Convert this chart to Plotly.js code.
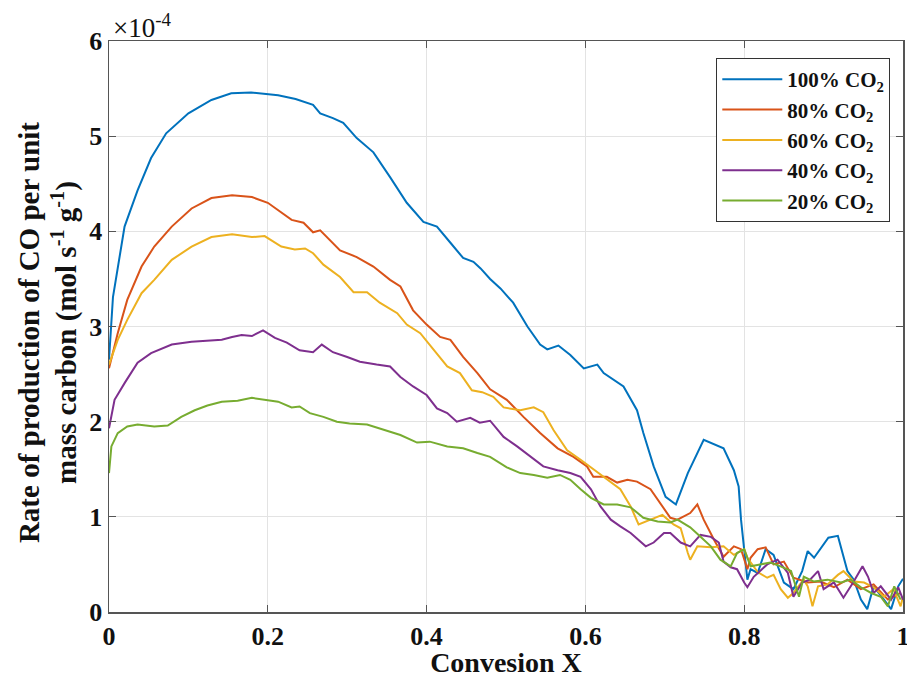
<!DOCTYPE html>
<html>
<head>
<meta charset="utf-8">
<script src="https://cdn.plot.ly/plotly-3.0.1.min.js"></script>
<style>html,body{margin:0;padding:0;background:#fff;}#chart{width:907px;height:678px;}</style>
</head>
<body>
<div id="chart"></div>
<script>
// Values in units of 1e-4 mol s^-1 g^-1
const seriesNames = ["100% CO<sub>2</sub>", "80% CO<sub>2</sub>", "60% CO<sub>2</sub>", "40% CO<sub>2</sub>", "20% CO<sub>2</sub>"];
const seriesColors = ["#0072BD", "#D95319", "#EDB120", "#7E2F8E", "#77AC30"];

const x100 = [0,0.005,0.0196,0.036,0.053,0.072,0.1,0.129,0.154,0.179,0.213,0.235,0.257,0.266,0.282,0.295,0.312,0.333,0.354,0.375,0.396,0.413,0.43,0.446,0.459,0.468,0.48,0.493,0.509,0.527,0.543,0.552,0.566,0.581,0.598,0.615,0.623,0.648,0.665,0.673,0.686,0.701,0.714,0.729,0.749,0.762,0.774,0.787,0.793,0.796,0.8,0.804,0.808,0.817,0.827,0.837,0.85,0.862,0.873,0.88,0.888,0.896,0.906,0.918,0.924,0.93,0.938,0.947,0.955,0.963,0.976,0.985,0.994,1.0];
const y100 = [2.65,3.31,4.05,4.43,4.77,5.03,5.24,5.38,5.45,5.46,5.43,5.39,5.33,5.24,5.19,5.14,4.98,4.83,4.57,4.30,4.10,4.05,3.88,3.72,3.68,3.61,3.50,3.40,3.25,3.0,2.81,2.76,2.80,2.70,2.56,2.60,2.51,2.37,2.12,1.88,1.53,1.21,1.13,1.46,1.81,1.76,1.72,1.49,1.32,0.97,0.66,0.34,0.45,0.41,0.66,0.60,0.31,0.24,0.43,0.64,0.57,0.66,0.78,0.80,0.62,0.43,0.34,0.13,0.03,0.27,0.13,0.03,0.27,0.35];

const x80 = [0,0.011,0.023,0.041,0.057,0.079,0.104,0.129,0.155,0.18,0.2,0.217,0.23,0.245,0.257,0.266,0.291,0.312,0.333,0.354,0.367,0.383,0.4,0.417,0.43,0.446,0.464,0.48,0.501,0.522,0.543,0.565,0.585,0.602,0.61,0.627,0.64,0.653,0.665,0.682,0.697,0.707,0.716,0.732,0.741,0.749,0.762,0.774,0.787,0.796,0.804,0.808,0.817,0.827,0.837,0.85,0.862,0.88,0.896,0.913,0.93,0.947,0.963,0.981,0.997];
const y80 = [2.56,2.93,3.28,3.63,3.84,4.05,4.24,4.35,4.38,4.36,4.30,4.20,4.12,4.09,3.99,4.01,3.80,3.73,3.63,3.49,3.42,3.17,3.02,2.89,2.86,2.68,2.51,2.34,2.23,2.05,1.88,1.72,1.63,1.53,1.42,1.42,1.36,1.39,1.37,1.29,1.11,0.99,0.97,1.04,1.13,0.97,0.76,0.58,0.69,0.66,0.45,0.57,0.66,0.68,0.50,0.53,0.36,0.31,0.32,0.26,0.34,0.24,0.29,0.13,0.2];

const x60 = [0,0.011,0.023,0.041,0.057,0.079,0.104,0.129,0.155,0.18,0.196,0.217,0.234,0.247,0.257,0.27,0.291,0.308,0.325,0.341,0.363,0.375,0.392,0.409,0.426,0.442,0.457,0.47,0.484,0.497,0.518,0.535,0.547,0.56,0.577,0.594,0.61,0.627,0.644,0.657,0.667,0.682,0.697,0.711,0.72,0.729,0.732,0.741,0.758,0.774,0.787,0.8,0.804,0.817,0.829,0.837,0.846,0.855,0.862,0.875,0.88,0.886,0.893,0.905,0.918,0.925,0.938,0.951,0.963,0.976,0.988,0.997,1.0];
const y60 = [2.6,2.86,3.07,3.35,3.49,3.70,3.84,3.94,3.97,3.94,3.95,3.84,3.81,3.82,3.77,3.65,3.52,3.36,3.36,3.25,3.14,3.02,2.93,2.75,2.58,2.51,2.33,2.31,2.26,2.15,2.12,2.15,2.10,1.91,1.70,1.60,1.50,1.39,1.29,1.11,0.92,0.97,1.02,0.92,0.88,0.62,0.55,0.69,0.68,0.69,0.60,0.66,0.57,0.42,0.36,0.39,0.24,0.15,0.2,0.34,0.27,0.06,0.27,0.29,0.39,0.43,0.32,0.31,0.26,0.16,0.24,0.06,0.16];

const x40 = [0,0.007,0.02,0.036,0.053,0.079,0.104,0.142,0.155,0.167,0.18,0.194,0.209,0.224,0.24,0.257,0.268,0.282,0.3,0.316,0.337,0.354,0.367,0.383,0.4,0.413,0.426,0.438,0.455,0.467,0.48,0.497,0.514,0.531,0.547,0.565,0.581,0.594,0.607,0.619,0.632,0.644,0.657,0.676,0.686,0.699,0.707,0.72,0.732,0.745,0.758,0.768,0.774,0.783,0.791,0.8,0.804,0.812,0.829,0.842,0.855,0.862,0.873,0.883,0.893,0.9,0.913,0.925,0.938,0.949,0.956,0.963,0.972,0.985,0.994,1.0];
const y40 = [1.93,2.23,2.41,2.62,2.72,2.81,2.84,2.86,2.89,2.91,2.90,2.96,2.88,2.83,2.75,2.73,2.81,2.73,2.68,2.63,2.60,2.58,2.47,2.37,2.28,2.14,2.09,2.0,2.04,1.99,2.01,1.84,1.74,1.63,1.53,1.49,1.46,1.42,1.29,1.11,0.97,0.90,0.83,0.69,0.73,0.83,0.83,0.73,0.69,0.81,0.79,0.73,0.53,0.47,0.45,0.31,0.26,0.37,0.50,0.55,0.41,0.16,0.31,0.34,0.43,0.24,0.31,0.15,0.32,0.48,0.37,0.2,0.27,0.13,0.26,0.13];

const x20 = [0,0.003,0.011,0.023,0.036,0.057,0.074,0.091,0.108,0.124,0.142,0.162,0.18,0.196,0.213,0.23,0.24,0.253,0.27,0.287,0.303,0.325,0.345,0.367,0.388,0.404,0.426,0.446,0.464,0.48,0.501,0.518,0.535,0.552,0.568,0.581,0.594,0.607,0.623,0.64,0.657,0.673,0.691,0.707,0.716,0.732,0.745,0.758,0.77,0.783,0.791,0.8,0.808,0.821,0.833,0.846,0.859,0.869,0.875,0.888,0.905,0.922,0.934,0.947,0.96,0.972,0.981,0.989,0.997];
const y20 = [1.46,1.74,1.88,1.95,1.97,1.95,1.96,2.05,2.12,2.17,2.21,2.22,2.25,2.23,2.21,2.15,2.16,2.09,2.05,2.0,1.98,1.97,1.92,1.86,1.78,1.79,1.74,1.72,1.67,1.63,1.52,1.46,1.44,1.41,1.44,1.39,1.29,1.20,1.13,1.13,1.10,0.99,0.95,0.94,0.97,0.89,0.79,0.69,0.55,0.48,0.62,0.66,0.48,0.50,0.52,0.48,0.43,0.16,0.37,0.32,0.34,0.31,0.34,0.26,0.2,0.16,0.06,0.27,0.13];

const xTickVals = [0, 0.2, 0.4, 0.6, 0.8, 1];
const xTickText = ["0", "0.2", "0.4", "0.6", "0.8", "1"];
const yTickVals = [0, 1, 2, 3, 4, 5, 6];
const yTickText = ["0", "1", "2", "3", "4", "5", "6"];

const xs = [x100, x80, x60, x40, x20];
const ys = [y100, y80, y60, y40, y20];

const FONT = "Liberation Serif, Times New Roman, serif";

const traces = xs.map((x, i) => ({
  x: x, y: ys[i], type: "scatter", mode: "lines",
  name: seriesNames[i],
  line: {color: seriesColors[i], width: 2}
}));

const axisCommon = {
  showline: true, linecolor: "#555", linewidth: 1.5, mirror: "ticks",
  ticks: "inside", ticklen: 7, tickcolor: "#555", tickwidth: 1,
  showgrid: true, gridcolor: "#e3e3e3", gridwidth: 1,
  zeroline: false, ticklabeloverflow: "allow",
  tickfont: {family: FONT, size: 26, color: "#111", weight: "bold"}
};

const layout = {
  width: 907, height: 678,
  margin: {l: 109, r: 4, t: 41, b: 66},
  paper_bgcolor: "#fff", plot_bgcolor: "#fff",
  showlegend: true,
  xaxis: Object.assign({}, axisCommon, {
    range: [0, 1.00001], tickvals: xTickVals, ticktext: xTickText,
    title: {text: "Convesion X", standoff: 3, font: {family: FONT, size: 28, color: "#111", weight: "bold"}}
  }),
  yaxis: Object.assign({}, axisCommon, {
    range: [0, 6.00001], tickvals: yTickVals, ticktext: yTickText
  }),
  legend: {
    x: 0.984, xanchor: "right", y: 0.97, yanchor: "top",
    bgcolor: "#fff", bordercolor: "#333", borderwidth: 1,
    font: {family: FONT, size: 21, color: "#111", weight: "bold"},
    itemwidth: 60,
    tracegroupgap: 0
  },
  annotations: [
    {
      xref: "paper", yref: "paper", x: -0.077, y: 0.49,
      xanchor: "center", yanchor: "middle", textangle: -90, showarrow: false,
      text: "Rate of production of CO per unit<br>mass carbon (mol s<sup>-1</sup> g<sup>-1</sup>)",
      font: {family: FONT, size: 29, color: "#111", weight: "bold"}
    },
    {
      xref: "paper", yref: "paper", x: 0.002, y: 1.0,
      xanchor: "left", yanchor: "bottom", yshift: -4, showarrow: false,
      text: "×10<sup>-4</sup>",
      font: {family: FONT, size: 27, color: "#111"}
    }
  ]
};

Plotly.newPlot("chart", traces, layout, {displayModeBar: false, staticPlot: true});
</script>
</body>
</html>
